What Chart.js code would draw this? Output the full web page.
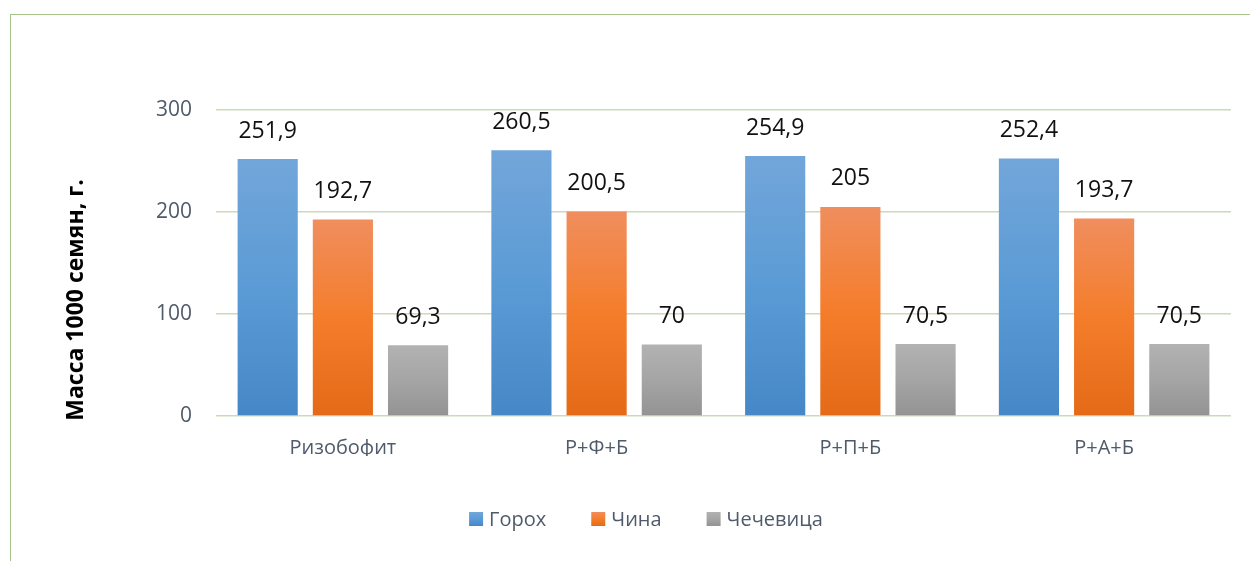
<!DOCTYPE html>
<html>
<head>
<meta charset="utf-8">
<script src="https://cdn.jsdelivr.net/npm/chart.js@4/dist/chart.umd.min.js"></script>
<style>
  html, body { margin: 0; padding: 0; background: #ffffff; }
  #wrap { width: 1250px; height: 561px; position: relative; }
</style>
</head>
<body>
<div id="wrap"><canvas id="c" width="1250" height="561"></canvas></div>
<script>
const categories = ['Ризобофит', 'Р+Ф+Б', 'Р+П+Б', 'Р+А+Б'];
const seriesNames = ['Горох', 'Чина', 'Чечевица'];
const peaValues = [251.9, 260.5, 254.9, 252.4];
const chinaValues = [192.7, 200.5, 205, 193.7];
const lentilValues = [69.3, 70, 70.5, 70.5];
const yTicks = [0, 100, 200, 300];
const yTitle = 'Масса 1000 семян, г.';

const FONT = "'Open Sans', 'Noto Sans', sans-serif";
const gradStops = [
  ['#72a6da', '#5b9bd5', '#4687c7'],
  ['#f08e5e', '#f47d2b', '#e46a17'],
  ['#b2b2b2', '#a5a5a5', '#939393']
];

function barGradient(idx) {
  return function(ctx) {
    const chart = ctx.chart;
    const y = chart.scales && chart.scales.y;
    const stops = gradStops[idx];
    if (!y || ctx.type !== 'data') return stops[1];
    const v = ctx.raw;
    const top = y.getPixelForValue(v);
    const bot = y.getPixelForValue(0);
    if (!isFinite(top) || !isFinite(bot) || top === bot) return stops[1];
    const g = chart.ctx.createLinearGradient(0, top, 0, bot);
    g.addColorStop(0, stops[0]);
    g.addColorStop(0.5, stops[1]);
    g.addColorStop(1, stops[2]);
    return g;
  };
}

function legendGradient(ctx, idx, y, h) {
  const stops = gradStops[idx];
  const g = ctx.createLinearGradient(0, y, 0, y + h);
  g.addColorStop(0, stops[0]);
  g.addColorStop(0.5, stops[1]);
  g.addColorStop(1, stops[2]);
  return g;
}

const frameAndLabels = {
  id: 'frameAndLabels',
  beforeDraw(chart) {
    const c = chart.ctx;
    c.save();
    c.strokeStyle = '#a8c48c';
    c.lineWidth = 1;
    c.strokeRect(10.5, 14.5, 1400, 700);
    c.restore();
  },
  afterDatasetsDraw(chart) {
    const c = chart.ctx;
    c.save();
    c.font = '23px ' + FONT;
    c.fillStyle = '#111111';
    c.textAlign = 'center';
    c.textBaseline = 'middle';
    chart.data.datasets.forEach((ds, di) => {
      const meta = chart.getDatasetMeta(di);
      meta.data.forEach((bar, i) => {
        const txt = String(ds.data[i]).replace('.', ',');
        c.fillText(txt, bar.x, bar.y - 28);
      });
    });
    c.restore();
  }
};

const axisTitle = {
  id: 'axisTitle',
  afterDraw(chart) {
    const c = chart.ctx;
    c.save();
    c.translate(76, 300);
    c.rotate(-Math.PI / 2);
    c.font = 'bold 23px ' + FONT;
    c.fillStyle = '#000000';
    c.textAlign = 'center';
    c.textBaseline = 'middle';
    c.fillText(yTitle, 0, 0);
    c.restore();
  }
};

const customLegend = {
  id: 'customLegend',
  afterDraw(chart) {
    const c = chart.ctx;
    c.save();
    c.font = '20px ' + FONT;
    c.textBaseline = 'middle';
    c.textAlign = 'left';
    const box = 14, gapBox = 6, gapItem = 45;
    const widths = seriesNames.map(n => box + gapBox + c.measureText(n).width);
    const total = widths.reduce((a, b) => a + b, 0) + gapItem * (seriesNames.length - 1);
    let x = 646 - total / 2;
    const yc = 519;
    seriesNames.forEach((n, i) => {
      c.fillStyle = legendGradient(c, i, yc - box / 2, box);
      c.fillRect(x, yc - box / 2, box, box);
      c.fillStyle = '#4f5b6b';
      c.fillText(n, x + box + gapBox, yc + 1);
      x += widths[i] + gapItem;
    });
    c.restore();
  }
};

new Chart(document.getElementById('c'), {
  type: 'bar',
  data: {
    labels: categories,
    datasets: [
      { label: seriesNames[0], data: peaValues, backgroundColor: barGradient(0) },
      { label: seriesNames[1], data: chinaValues, backgroundColor: barGradient(1) },
      { label: seriesNames[2], data: lentilValues, backgroundColor: barGradient(2) }
    ]
  },
  options: {
    responsive: false,
    animation: false,
    devicePixelRatio: 1,
    categoryPercentage: 0.889,
    barPercentage: 0.8,
    layout: { padding: { left: 0, right: 19, top: 110, bottom: 105 } },
    plugins: {
      legend: { display: false },
      tooltip: { enabled: false }
    },
    scales: {
      x: {
        afterFit(axis) { axis.height = 40; },
        grid: { display: false, drawTicks: false },
        border: { display: false },
        ticks: { color: '#4f5b6b', font: { family: FONT, size: 20 }, padding: 20 }
      },
      y: {
        min: 0,
        max: 300,
        afterFit(axis) { axis.width = 216; },
        afterBuildTicks(axis) { axis.ticks = yTicks.map(v => ({ value: v })); },
        grid: { color: '#c9dcb8', lineWidth: 1.5, drawTicks: false },
        border: { display: false },
        ticks: { color: '#4f5b6b', font: { family: FONT, size: 21 }, padding: 24 },
        title: { display: false, text: yTitle }
      }
    }
  },
  plugins: [frameAndLabels, axisTitle, customLegend]
});
</script>
</body>
</html>
